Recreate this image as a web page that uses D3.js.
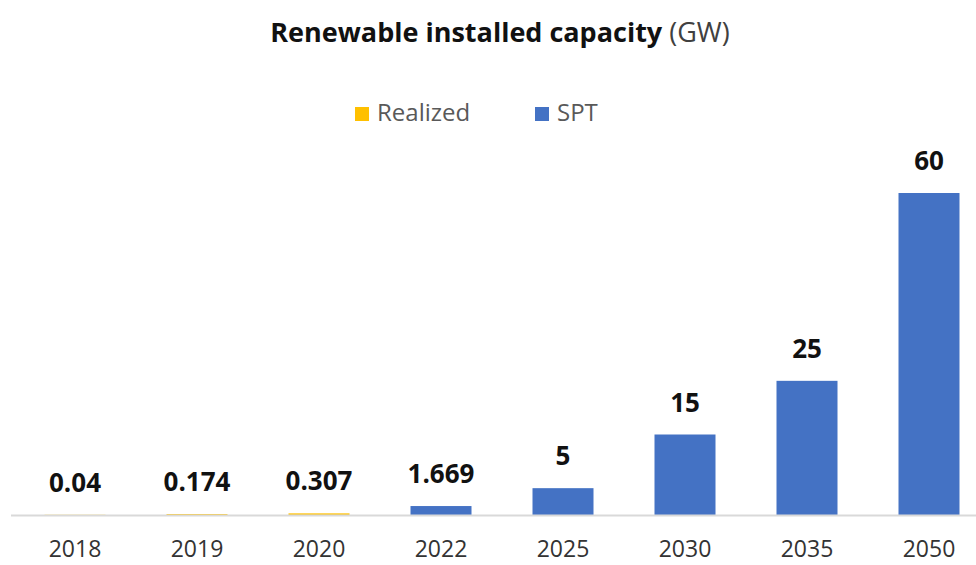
<!DOCTYPE html>
<html>
  <head>
    <meta charset="utf-8">
    <script src="https://d3js.org/d3.v7.min.js"></script>
    <title>Renewable installed capacity</title>
    <style>
      body { margin: 0; background: #fff; }
      svg { font-family: "Open Sans", Lato, sans-serif; }
    </style>
  </head>
  <body>
    <svg width="976" height="565" id="chart"></svg>
    <script>
      // values
      var years = ["2018", "2019", "2020", "2022", "2025", "2030", "2035", "2050"];
      var capacity = [0.04, 0.174, 0.307, 1.669, 5, 15, 25, 60];
      var series = ["Realized", "Realized", "Realized", "SPT", "SPT", "SPT", "SPT", "SPT"];
      var legendNames = ["Realized", "SPT"];
      var colours = { "Realized": "#FFC000", "SPT": "#4472C4" };

      var data = years.map(function (y, i) {
        return { year: y, value: capacity[i], series: series[i] };
      });

      var svg = d3.select("#chart");

      var x = d3.scaleBand().domain(years).range([14, 990])
          .paddingInner(0.5).paddingOuter(0.25);
      var y = d3.scaleLinear().domain([0, 60]).range([515, 193]);

      // title
      var title = svg.append("text")
          .attr("x", 500).attr("y", 42)
          .attr("text-anchor", "middle")
          .attr("font-size", 27)
          .attr("fill", "#111");
      title.append("tspan").attr("font-weight", "bold").text("Renewable installed capacity");
      title.append("tspan").attr("fill", "#404040").text(" (GW)");

      // legend
      var legendX = [355, 535];
      var lg = svg.selectAll(".legend")
          .data(legendNames)
          .enter().append("g")
          .attr("class", "legend")
          .attr("transform", function (d, i) { return "translate(" + legendX[i] + ",106)"; });
      lg.append("rect")
          .attr("y", 1)
          .attr("width", 14).attr("height", 14)
          .attr("fill", function (d) { return colours[d]; });
      lg.append("text")
          .attr("x", 22).attr("y", 15)
          .attr("font-size", 24)
          .attr("fill", "#595959")
          .text(function (d) { return d; });

      // bars
      svg.selectAll(".bar")
          .data(data)
          .enter().append("rect")
          .attr("class", "bar")
          .attr("x", function (d) { return x(d.year); })
          .attr("y", function (d) { return y(d.value); })
          .attr("width", x.bandwidth())
          .attr("height", function (d) { return y(0) - y(d.value); })
          .attr("fill", function (d) { return colours[d.series]; });

      // axis
      var axis = svg.append("g")
          .attr("transform", "translate(0," + y(0) + ")")
          .call(d3.axisBottom(x).tickSize(0).tickPadding(26));
      axis.select(".domain").attr("d", "M11,0.5H976").attr("stroke", "#d9d9d9").attr("stroke-width", 2);
      axis.selectAll(".tick text")
          .attr("font-size", 23)
          .attr("font-family", "'Open Sans', Lato, sans-serif")
          .attr("fill", "#333");

      // value labels
      svg.selectAll(".label")
          .data(data)
          .enter().append("text")
          .attr("class", "label")
          .attr("x", function (d) { return x(d.year) + x.bandwidth() / 2; })
          .attr("y", function (d) { return y(d.value) - 23; })
          .attr("text-anchor", "middle")
          .attr("font-size", 26)
          .attr("font-weight", "bold")
          .attr("fill", "#111")
          .text(function (d) { return d.value; });
    </script>
  </body>
</html>
